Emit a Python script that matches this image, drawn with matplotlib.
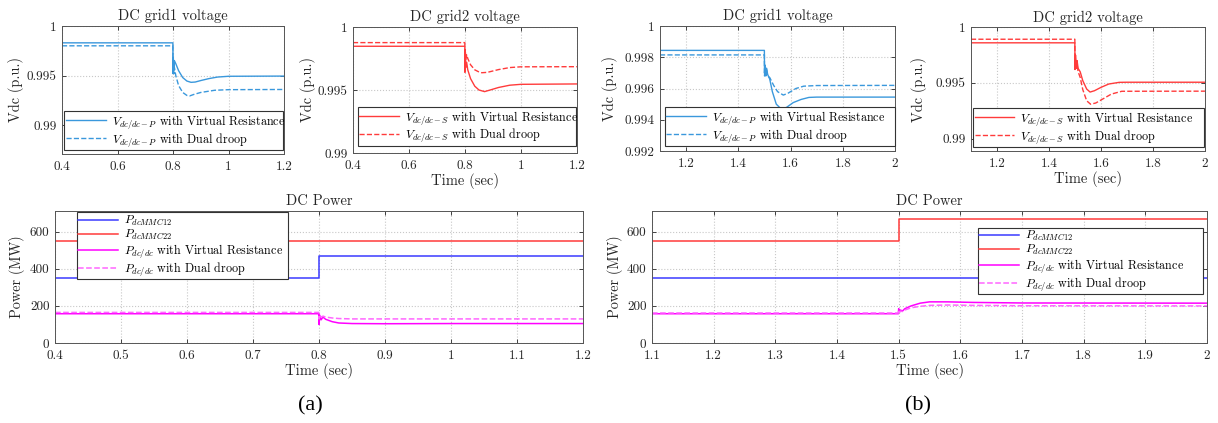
import matplotlib
matplotlib.use("Agg")
import matplotlib.pyplot as plt

plt.rcParams['font.family'] = 'serif'
plt.rcParams['font.serif'] = ['cmr10', 'DejaVu Serif']
plt.rcParams['mathtext.fontset'] = 'cm'
plt.rcParams['axes.unicode_minus'] = False
plt.rcParams['axes.formatter.use_mathtext'] = True

# ---- (a) DC grid1 voltage ----
a1_t_vr = [0.4, 0.7995, 0.800, 0.801, 0.803, 0.805, 0.81, 0.82, 0.835, 0.85, 0.865, 0.88, 0.9, 0.93, 0.96, 1.0, 1.2]
a1_v_vr = [0.9983, 0.9983, 0.9952, 0.9968, 0.9958, 0.9965, 0.9962, 0.9955, 0.9948, 0.99445, 0.99432, 0.99435,
           0.9945, 0.9947, 0.99485, 0.99493, 0.99495]
a1_t_dd = [0.4, 0.7995, 0.8, 0.801, 0.803, 0.805, 0.81, 0.82, 0.835, 0.85, 0.86, 0.875, 0.9, 0.95, 1.0, 1.2]
a1_v_dd = [0.9980, 0.9980, 0.9955, 0.9965, 0.9952, 0.9958, 0.9950, 0.9940, 0.9933, 0.99300, 0.99295, 0.9931,
           0.9933, 0.99352, 0.99358, 0.9936]

# ---- (a) DC grid2 voltage ----
a2_t_vr = [0.4, 0.7995, 0.8, 0.801, 0.803, 0.806, 0.81, 0.82, 0.835, 0.85, 0.87, 0.89, 0.92, 0.96, 1.0, 1.2]
a2_v_vr = [0.99847, 0.99847, 0.9964, 0.9980, 0.9968, 0.9972, 0.9966, 0.9959, 0.9953, 0.9950, 0.99487, 0.9950,
           0.9952, 0.99538, 0.99545, 0.99548]
a2_t_dd = [0.4, 0.7995, 0.8, 0.801, 0.803, 0.806, 0.81, 0.82, 0.835, 0.85, 0.86, 0.88, 0.92, 0.96, 1.0, 1.2]
a2_v_dd = [0.99876, 0.99876, 0.9966, 0.9982, 0.9974, 0.9978, 0.9975, 0.9970, 0.9966, 0.99643, 0.99637, 0.9964,
           0.99662, 0.99678, 0.99684, 0.99685]

# ---- (b) DC grid1 voltage ----
b1_t_vr = [1.1, 1.4995, 1.5, 1.502, 1.505, 1.508, 1.512, 1.52, 1.53, 1.545, 1.565, 1.585, 1.61, 1.64, 1.67, 1.7, 2.0]
b1_v_vr = [0.99844, 0.99844, 0.9970, 0.9975, 0.9968, 0.9973, 0.9969, 0.9966, 0.9958, 0.9950, 0.99467, 0.9948,
           0.9951, 0.9953, 0.99543, 0.99545, 0.99545]
b1_t_dd = [1.1, 1.4995, 1.5, 1.502, 1.505, 1.508, 1.512, 1.52, 1.535, 1.55, 1.572, 1.59, 1.62, 1.65, 1.7, 2.0]
b1_v_dd = [0.99815, 0.99815, 0.9968, 0.9974, 0.9969, 0.9972, 0.9968, 0.9967, 0.9962, 0.9958, 0.99558, 0.99570,
           0.9960, 0.99615, 0.99619, 0.9962]

# ---- (b) DC grid2 voltage ----
b2_t_vr = [1.1, 1.4995, 1.5, 1.502, 1.505, 1.508, 1.512, 1.52, 1.53, 1.545, 1.558, 1.575, 1.6, 1.63, 1.67, 1.7, 2.0]
b2_v_vr = [0.99859, 0.99859, 0.9963, 0.9975, 0.9966, 0.9970, 0.9963, 0.9960, 0.9952, 0.99445, 0.99418, 0.9943,
           0.9946, 0.9949, 0.99505, 0.99506, 0.99506]
b2_t_dd = [1.1, 1.4995, 1.5, 1.502, 1.505, 1.508, 1.512, 1.52, 1.53, 1.545, 1.56, 1.58, 1.61, 1.64, 1.68, 2.0]
b2_v_dd = [0.99891, 0.99891, 0.9962, 0.9972, 0.9963, 0.9967, 0.9960, 0.9955, 0.9944, 0.9934, 0.99309, 0.9932,
           0.9936, 0.9940, 0.99425, 0.99426]

# ---- (a) DC power ----
pa_t_mmc12 = [0.4, 0.8, 0.8, 1.2]
pa_p_mmc12 = [350, 350, 470, 470]
pa_t_mmc22 = [0.4, 1.2]
pa_p_mmc22 = [550, 550]
pa_t_vr = [0.4, 0.7995, 0.8, 0.801, 0.803, 0.806, 0.81, 0.82, 0.83, 0.85, 0.9, 1.0, 1.2]
pa_p_vr = [158, 158, 100, 150, 125, 140, 128, 115, 108, 105, 104, 105, 105]
pa_t_dd = [0.4, 0.7995, 0.8, 0.801, 0.803, 0.806, 0.81, 0.82, 0.83, 0.85, 0.9, 1.2]
pa_p_dd = [165, 165, 130, 150, 140, 145, 140, 135, 132, 130, 130, 130]

# ---- (b) DC power ----
pb_t_mmc12 = [1.1, 2.0]
pb_p_mmc12 = [350, 350]
pb_t_mmc22 = [1.1, 1.5, 1.5, 2.0]
pb_p_mmc22 = [550, 550, 668, 668]
pb_t_vr = [1.1, 1.4995, 1.5, 1.501, 1.503, 1.506, 1.51, 1.52, 1.535, 1.55, 1.58, 1.62, 1.7, 2.0]
pb_p_vr = [158, 158, 185, 165, 178, 172, 185, 200, 215, 222, 222, 219, 216, 215]
pb_t_dd = [1.1, 1.4995, 1.5, 1.501, 1.503, 1.506, 1.51, 1.52, 1.535, 1.55, 1.58, 1.62, 1.7, 2.0]
pb_p_dd = [162, 162, 180, 165, 172, 170, 178, 190, 198, 203, 205, 203, 201, 200]

BLUE_V = '#3a98dc'
RED_V = '#ff3b3b'
BLUE_P = '#3b3bff'
RED_P = '#ff3b3b'
MAG = '#ff00ff'
MAG_L = '#ff66ff'
AXC = '#262626'

fig = plt.figure(figsize=(12.18, 4.23), dpi=100)


def style(ax, xlim, ylim, xt, xtl, yt, ytl, title, ylabel, ylx, xlabel=None):
    ax.set_xlim(*xlim)
    ax.set_ylim(*ylim)
    ax.set_xticks(xt)
    ax.set_xticklabels(xtl)
    ax.set_yticks(yt)
    ax.set_yticklabels(ytl)
    ax.grid(True, linestyle=':', color='#c8c8c8', linewidth=0.8)
    ax.tick_params(direction='in', length=3, width=0.6, colors=AXC, labelsize=9.5, top=True, right=True)
    ax.tick_params(axis='x', pad=5)
    ax.tick_params(axis='y', pad=4)
    for s in ax.spines.values():
        s.set_color('#555555')
        s.set_linewidth(0.7)
    ax.set_title(title, fontsize=10.5, color=AXC, pad=4)
    ax.set_ylabel(ylabel, fontsize=10.3, color=AXC, va='center')
    ax.yaxis.set_label_coords(ylx, 0.5)
    if xlabel:
        ax.set_xlabel(xlabel, fontsize=10.5, color=AXC, labelpad=1)


def legend(ax, loc, bbox):
    lg = ax.legend(loc=loc, bbox_to_anchor=bbox, mode='expand', fontsize=8.7, handlelength=3.3,
                   borderpad=0.12, labelspacing=0.0, handletextpad=0.5, fancybox=False, framealpha=1,
                   edgecolor='#333333', borderaxespad=0)
    lg.get_frame().set_linewidth(0.8)
    return lg


# top-left (a) grid1
ax1 = fig.add_axes([0.0509, 0.636, 0.1823, 0.3026])
ax1.plot(a1_t_vr, a1_v_vr, color=BLUE_V, lw=1.0, label=r'$V_{dc/dc-P}$ with Virtual Resistance')
ax1.plot(a1_t_dd, a1_v_dd, color=BLUE_V, lw=1.0, ls='--', label=r'$V_{dc/dc-P}$ with Dual droop')
style(ax1, (0.4, 1.2), (0.9871, 1.0), [0.4, 0.6, 0.8, 1.0, 1.2], ['0.4', '0.6', '0.8', '1', '1.2'],
      [0.99, 0.995, 1.0], ['0.99', '0.995', '1'], 'DC grid1 voltage', 'Vdc (p.u.)', -0.207)
legend(ax1, 'lower left', (0.01, 0.03, 0.985, 0.3))

# top (a) grid2
ax2 = fig.add_axes([0.2898, 0.6383, 0.1839, 0.2979])
ax2.plot(a2_t_vr, a2_v_vr, color=RED_V, lw=1.0, label=r'$V_{dc/dc-S}$ with Virtual Resistance')
ax2.plot(a2_t_dd, a2_v_dd, color=RED_V, lw=1.0, ls='--', label=r'$V_{dc/dc-S}$ with Dual droop')
style(ax2, (0.4, 1.2), (0.99, 1.0), [0.4, 0.6, 0.8, 1.0, 1.2], ['0.4', '0.6', '0.8', '1', '1.2'],
      [0.99, 0.995, 1.0], ['0.99', '0.995', '1'], 'DC grid2 voltage', 'Vdc (p.u.)', -0.20, 'Time (sec)')
legend(ax2, 'lower left', (0.022, 0.056, 0.973, 0.3))

# top (b) grid1
ax3 = fig.add_axes([0.5419, 0.643, 0.193, 0.2955])
ax3.plot(b1_t_vr, b1_v_vr, color=BLUE_V, lw=1.0, label=r'$V_{dc/dc-P}$ with Virtual Resistance')
ax3.plot(b1_t_dd, b1_v_dd, color=BLUE_V, lw=1.0, ls='--', label=r'$V_{dc/dc-P}$ with Dual droop')
style(ax3, (1.1, 2.0), (0.992, 1.0), [1.2, 1.4, 1.6, 1.8, 2.0], ['1.2', '1.4', '1.6', '1.8', '2'],
      [0.992, 0.994, 0.996, 0.998, 1.0], ['0.992', '0.994', '0.996', '0.998', '1'], 'DC grid1 voltage',
      'Vdc (p.u.)', -0.213)
legend(ax3, 'lower left', (0.021, 0.04, 0.979, 0.3))

# top (b) grid2
ax4 = fig.add_axes([0.7972, 0.643, 0.1921, 0.293])
ax4.plot(b2_t_vr, b2_v_vr, color=RED_V, lw=1.0, label=r'$V_{dc/dc-S}$ with Virtual Resistance')
ax4.plot(b2_t_dd, b2_v_dd, color=RED_V, lw=1.0, ls='--', label=r'$V_{dc/dc-S}$ with Dual droop')
style(ax4, (1.1, 2.0), (0.9889, 1.0), [1.2, 1.4, 1.6, 1.8, 2.0], ['1.2', '1.4', '1.6', '1.8', '2'],
      [0.99, 0.995, 1.0], ['0.99', '0.995', '1'], 'DC grid2 voltage', 'Vdc (p.u.)', -0.222, 'Time (sec)')
legend(ax4, 'lower left', (0.009, 0.032, 0.987, 0.3))

# bottom (a) power
ax5 = fig.add_axes([0.0452, 0.1891, 0.4335, 0.312])
ax5.plot(pa_t_mmc12, pa_p_mmc12, color=BLUE_P, lw=1.1, label=r'$P_{dcMMC12}$')
ax5.plot(pa_t_mmc22, pa_p_mmc22, color=RED_P, lw=1.1, label=r'$P_{dcMMC22}$')
ax5.plot(pa_t_vr, pa_p_vr, color=MAG, lw=1.1, label=r'$P_{dc/dc}$ with Virtual Resistance')
ax5.plot(pa_t_dd, pa_p_dd, color=MAG_L, lw=1.1, ls='--', label=r'$P_{dc/dc}$ with Dual droop')
xa = [0.4, 0.5, 0.6, 0.7, 0.8, 0.9, 1.0, 1.1, 1.2]
style(ax5, (0.4, 1.2), (0, 712), xa, ['0.4', '0.5', '0.6', '0.7', '0.8', '0.9', '1', '1.1', '1.2'],
      [0, 200, 400, 600], ['0', '200', '400', '600'], 'DC Power', 'Power (MW)', -0.072, 'Time (sec)')
legend(ax5, 'upper left', (0.041, 0.5, 0.40, 0.49))

# bottom (b) power
ax6 = fig.add_axes([0.5353, 0.1891, 0.4557, 0.312])
ax6.plot(pb_t_mmc12, pb_p_mmc12, color=BLUE_P, lw=1.1, label=r'$P_{dcMMC12}$')
ax6.plot(pb_t_mmc22, pb_p_mmc22, color=RED_P, lw=1.1, label=r'$P_{dcMMC22}$')
ax6.plot(pb_t_vr, pb_p_vr, color=MAG, lw=1.1, label=r'$P_{dc/dc}$ with Virtual Resistance')
ax6.plot(pb_t_dd, pb_p_dd, color=MAG_L, lw=1.1, ls='--', label=r'$P_{dc/dc}$ with Dual droop')
xb = [1.1, 1.2, 1.3, 1.4, 1.5, 1.6, 1.7, 1.8, 1.9, 2.0]
style(ax6, (1.1, 2.0), (0, 712), xb, ['1.1', '1.2', '1.3', '1.4', '1.5', '1.6', '1.7', '1.8', '1.9', '2'],
      [0, 200, 400, 600], ['0', '200', '400', '600'], 'DC Power', 'Power (MW)', -0.067, 'Time (sec)')
legend(ax6, 'upper left', (0.587, 0.4, 0.405, 0.475))

fig.text(0.255, 0.03, '(a)', fontsize=16, family='Liberation Serif', ha='center')
fig.text(0.754, 0.03, '(b)', fontsize=16, family='Liberation Serif', ha='center')

fig.savefig('out.png', dpi=100)
